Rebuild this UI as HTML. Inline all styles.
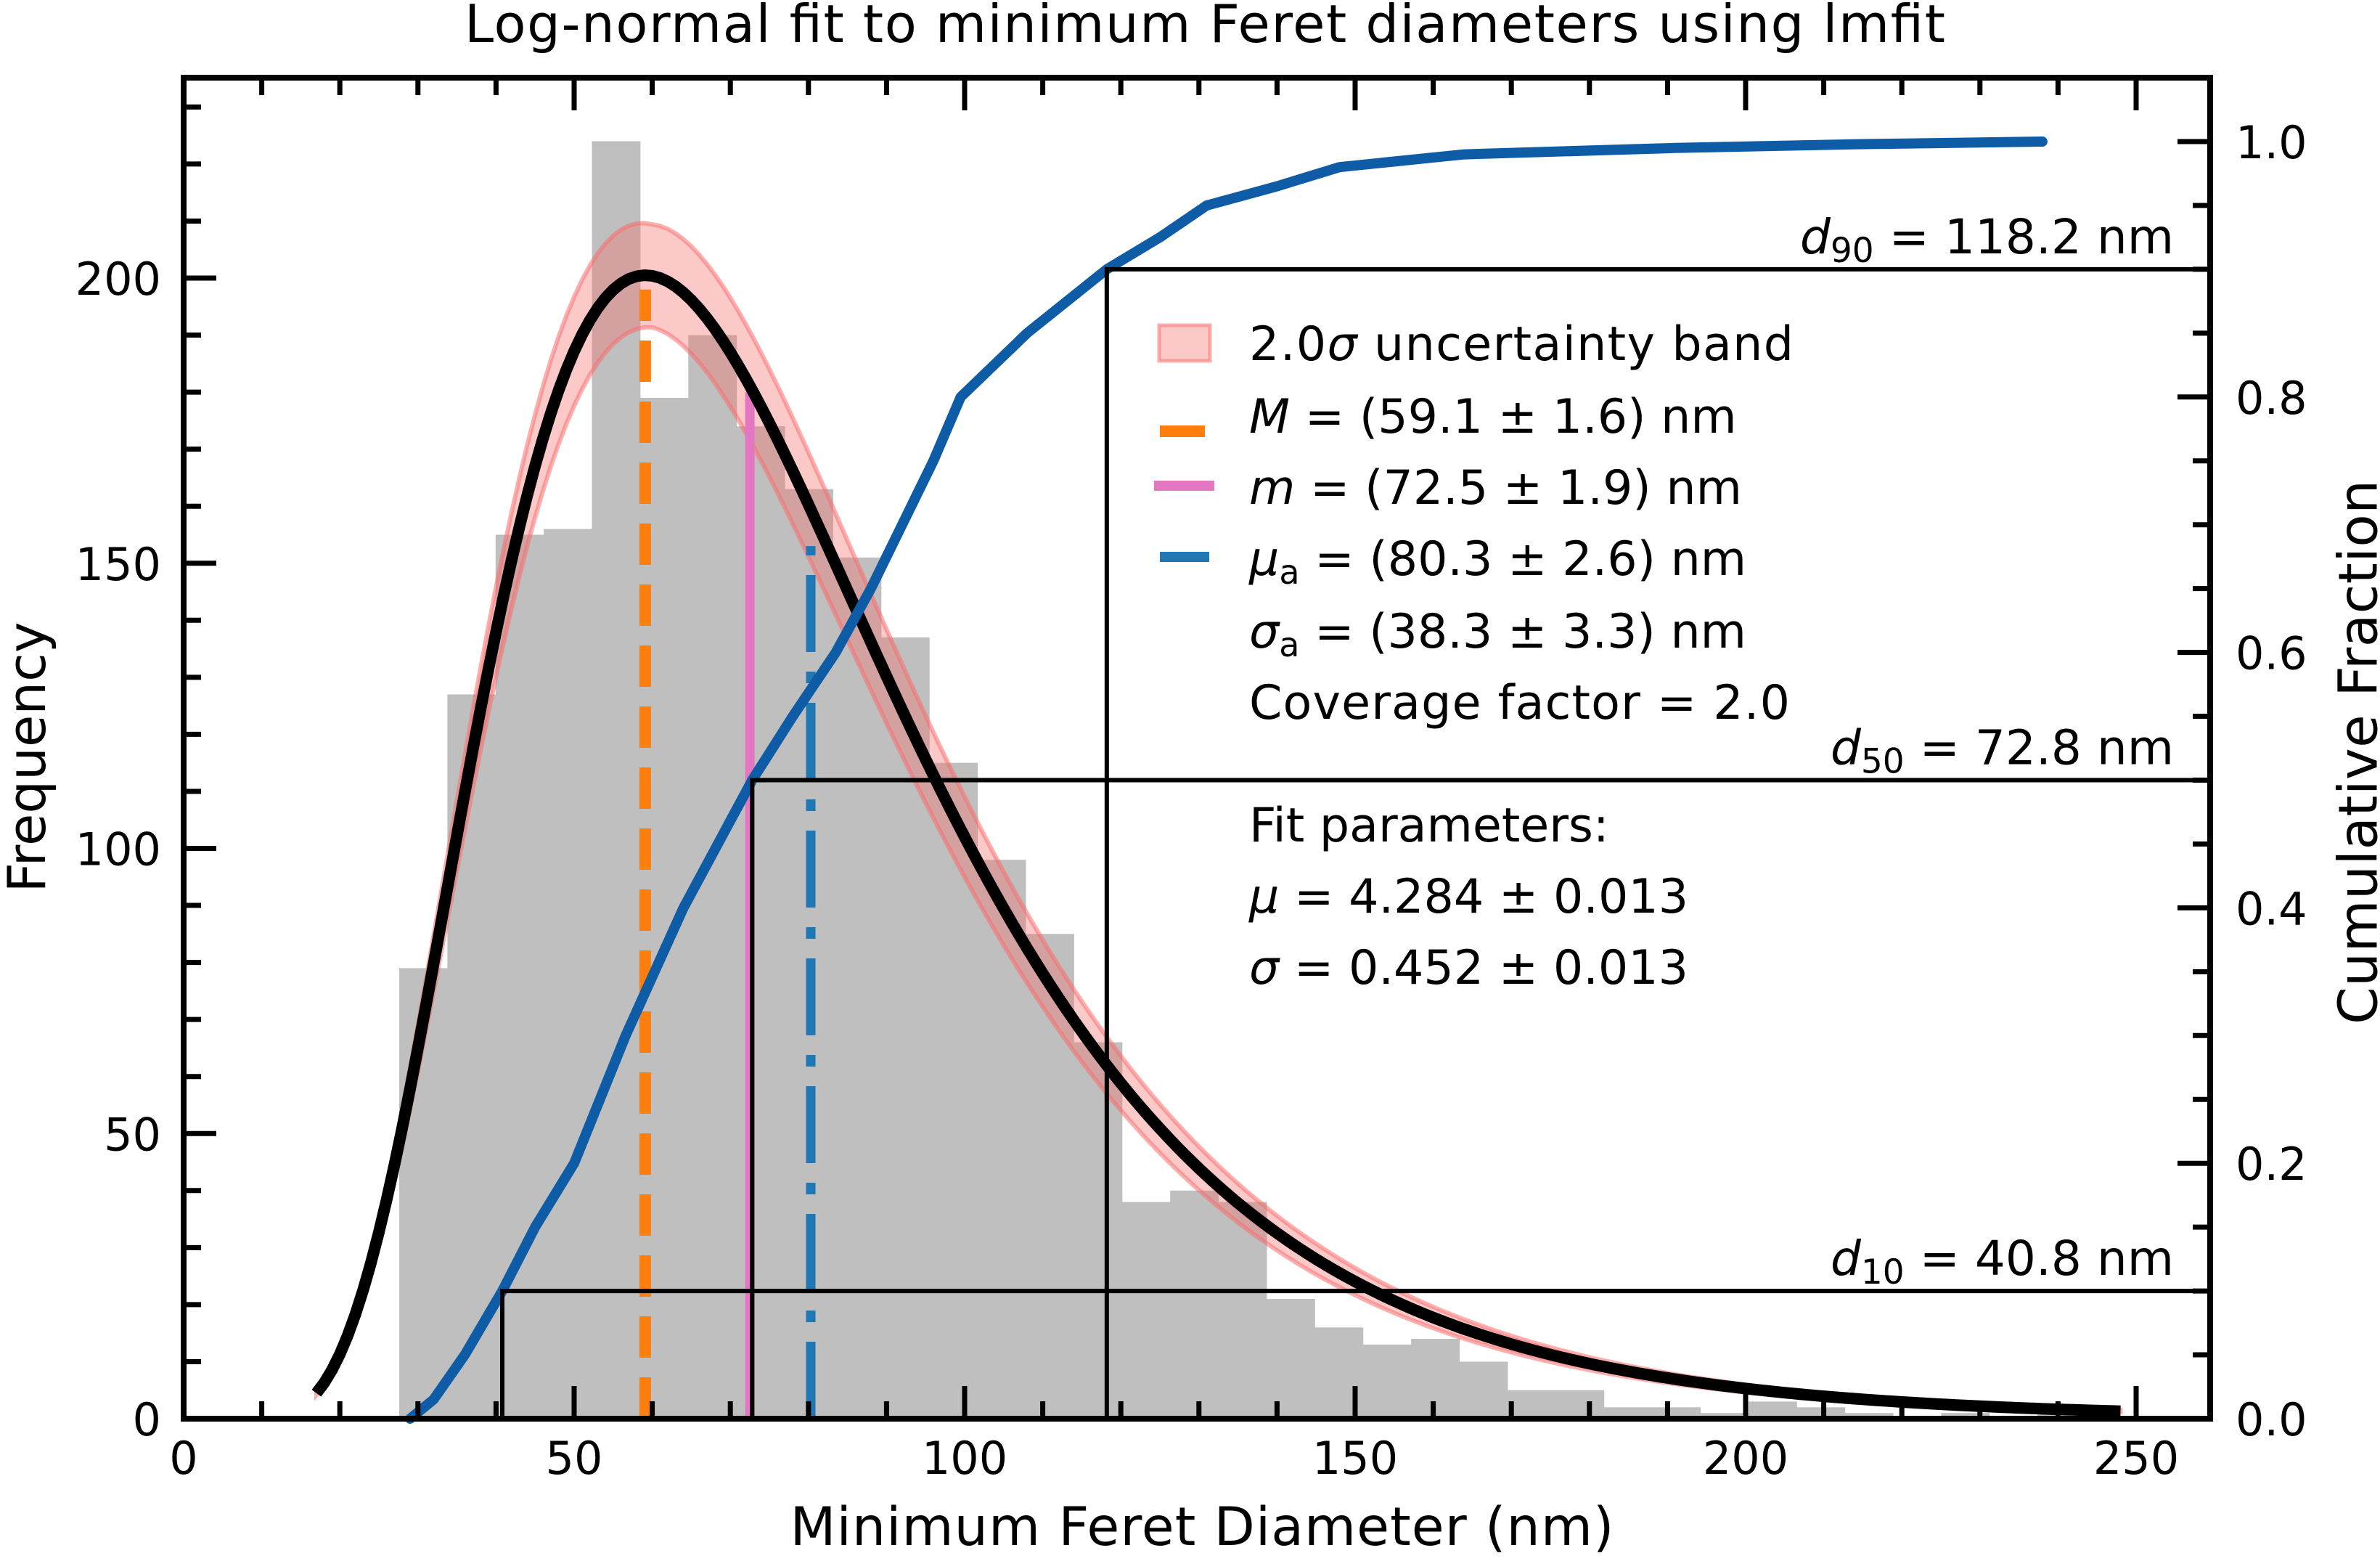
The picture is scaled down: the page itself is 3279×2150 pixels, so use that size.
<!DOCTYPE html>
<html><head><meta charset="utf-8"><style>
html,body{margin:0;padding:0;background:#fff;}
svg{display:block;font-family:"DejaVu Sans","Liberation Sans",sans-serif;}
</style></head><body>
<svg id="chart" width="3279" height="2150" viewBox="0 0 3279 2150" xmlns="http://www.w3.org/2000/svg">
<rect width="3279" height="2150" fill="#fff"/>
<g id="plot"></g>
<text x="1660" y="58" font-size="72" text-anchor="middle" textLength="2040">Log-normal fit to minimum Feret diameters using lmfit</text>
<text x="1656" y="2128" font-size="73" text-anchor="middle" textLength="1135">Minimum Feret Diameter (nm)</text>
<text transform="translate(62,1043) rotate(-90)" font-size="72" text-anchor="middle" textLength="373">Frequency</text>
<text transform="translate(3254,1036) rotate(-90)" font-size="74" text-anchor="middle" dominant-baseline="middle" textLength="750">Cumulative Fraction</text>
<g font-size="65">
<rect x="1597" y="448" width="70" height="49" fill="rgba(248,113,113,0.38)" stroke="rgba(250,120,120,0.6)" stroke-width="5"/>
<text x="1721" y="496" textLength="750">2.0<tspan font-style="italic">σ</tspan> uncertainty band</text>
<line x1="1598" y1="594" x2="1660" y2="594" stroke="#ff7f0e" stroke-width="16"/>
<text x="1721" y="596"><tspan font-style="italic">M</tspan> = (59.1 ± 1.6) nm</text>
<line x1="1590" y1="669" x2="1673" y2="669" stroke="#e377c2" stroke-width="14"/>
<text x="1721" y="694"><tspan font-style="italic">m</tspan> = (72.5 ± 1.9) nm</text>
<line x1="1598" y1="767" x2="1666" y2="767" stroke="#1f77b4" stroke-width="14"/>
<text x="1721" y="792"><tspan font-style="italic">μ</tspan><tspan font-size="46" dy="12">a</tspan><tspan dy="-12"> = (80.3 ± 2.6) nm</tspan></text>
<text x="1721" y="892"><tspan font-style="italic">σ</tspan><tspan font-size="46" dy="12">a</tspan><tspan dy="-12"> = (38.3 ± 3.3) nm</tspan></text>
<text x="1721" y="990" textLength="745">Coverage factor = 2.0</text>
<text x="1721" y="1159">Fit parameters:</text>
<text x="1721" y="1257"><tspan font-style="italic">μ</tspan> = 4.284 ± 0.013</text>
<text x="1721" y="1355"><tspan font-style="italic">σ</tspan> = 0.452 ± 0.013</text>
</g>
</svg>
<script>
const binStart = 27.6;
const binWidth = 6.17;
const counts = [79,127,155,156,224,179,190,174,163,151,137,115,98,85,66,38,40,38,21,16,13,14,10,5,5,2,2,1,3,2,1,0,1,0,1,0];
const fitMu = [4.284];
const fitSigma = [0.452];
const fitPeak = [200.5];
const cdfX = [29,32,36,40.8,45,50,56.6,64,72.8,78,83.5,88,92,96,99.5,108,118.2,125,131,140,148,164,191,215,238];
const cdfF = [0,0.015,0.05,0.1,0.15,0.2,0.3,0.4,0.5,0.55,0.6,0.65,0.7,0.75,0.8,0.85,0.9,0.925,0.95,0.965,0.98,0.99,0.995,0.998,1.0];
const statNames = ['mode','median','mean'];
const statValues = [59.1,72.5,80.3];
const statTops = [198,180,153];
const quantNames = ['d10','d50','d90'];
const quantValues = [40.8,72.8,118.2];
const quantFracs = [0.1,0.5,0.9];
const xTicks = [0,50,100,150,200,250];
const yTicks = [0,50,100,150,200];
const y2Ticks = [0,0.2,0.4,0.6,0.8,1.0];

const L=253,R=3045,T=107,B=1954;
const X=v=>L+v*10.76;
const YC=v=>B-v*7.855;
const YF=f=>B-f*1759;
const NS='http://www.w3.org/2000/svg';
const g=document.getElementById('plot');
function mk(tag,attrs,parent){const e=document.createElementNS(NS,tag);for(const k in attrs)e.setAttribute(k,attrs[k]);(parent||g).appendChild(e);return e;}

counts.forEach((c,i)=>{
  if(c<=0)return;
  const x0=X(binStart+i*binWidth),x1=X(binStart+(i+1)*binWidth);
  const r=mk('rect',{x:x0,y:YC(c),width:x1-x0+0.5,height:B-YC(c),fill:'#bfbfbf'});
  
  
});

const mode=Math.exp(fitMu[0]-fitSigma[0]*fitSigma[0]);
function shape(x){const s=fitSigma[0],m=fitMu[0];return Math.exp(-Math.pow(Math.log(x)-m,2)/(2*s*s))/x;}
const A=fitPeak[0]/shape(mode);
const fit=x=>A*shape(x);
let up=[],lo=[],mid=[];
for(let x=17;x<=248;x+=1){
  const f=fit(x),r=0.045+0.0006*Math.abs(x-60);
  up.push([X(x),YC(f*(1+r))]);lo.push([X(x),YC(f*(1-r))]);mid.push([X(x),YC(f)]);
}
const bandD='M'+up.map(p=>p.join(',')).join('L')+'L'+lo.reverse().map(p=>p.join(',')).join('L')+'Z';
const band=mk('path',{d:bandD,fill:'rgba(248,113,113,0.38)',stroke:'rgba(250,110,110,0.55)','stroke-width':6});



const statStyle=[{c:'#ff7f0e',w:16,d:'57 27'},{c:'#e377c2',w:13,d:''},{c:'#1f77b4',w:13,d:'106 27 16 27'}];
statValues.forEach((v,i)=>{
  const a={x1:X(v),x2:X(v),y1:B,y2:YC(statTops[i]),stroke:statStyle[i].c,'stroke-width':statStyle[i].w};
  if(statStyle[i].d)a['stroke-dasharray']=statStyle[i].d;
  const l=mk('line',a);
  
  
});

const fl=mk('path',{d:'M'+mid.map(p=>p.join(',')).join('L'),fill:'none',stroke:'#000','stroke-width':16,'stroke-linejoin':'round'});



const cd=mk('path',{d:'M'+cdfX.map((x,i)=>X(x)+','+YF(cdfF[i])).join('L'),fill:'none',stroke:'#0e5ca6','stroke-width':14,'stroke-linejoin':'round','stroke-linecap':'round'});



quantValues.forEach((v,i)=>{
  const y=YF(quantFracs[i]);
  const p=mk('path',{d:`M${X(v)},${B}L${X(v)},${y}L${R},${y}`,fill:'none',stroke:'#000','stroke-width':6});
  
  
  const t=mk('text',{x:2995,y:y-22,'font-size':66,'text-anchor':'end'});
  
  
  t.innerHTML=`<tspan font-style="italic">d</tspan><tspan font-size="47" dy="12">${quantNames[i].slice(1)}</tspan><tspan dy="-12"> = ${v.toFixed(1)} nm</tspan>`;
});

const tk=[];
for(let v=0;v<=258;v+=10){const maj=v%50===0,len=maj?45:24;
  tk.push(`M${X(v)},${B}v${-len}M${X(v)},${T}v${len}`);}
for(let v=0;v<=235;v+=10){const maj=v%50===0,len=maj?45:24;tk.push(`M${L},${YC(v)}h${len}`);}
for(let k=0;k<=20;k++){const f=k*0.05,maj=k%4===0,len=maj?45:24;tk.push(`M${R},${YF(f)}h${-len}`);}
const tp=mk('path',{d:tk.join(''),stroke:'#000','stroke-width':7,fill:'none'});


const fr=mk('rect',{x:L,y:T,width:R-L,height:B-T,fill:'none',stroke:'#000','stroke-width':8});



xTicks.forEach(v=>{const t=mk('text',{x:X(v),y:2030,'font-size':62,'text-anchor':'middle'});
  
  
  t.textContent=v;});
yTicks.forEach(v=>{const t=mk('text',{x:222,y:YC(v)+23,'font-size':62,'text-anchor':'end'});
  
  
  t.textContent=v;});
y2Ticks.forEach(v=>{const t=mk('text',{x:3080,y:YF(v)+23,'font-size':62});
  
  
  t.textContent=v.toFixed(1);});
</script>
</body></html>
